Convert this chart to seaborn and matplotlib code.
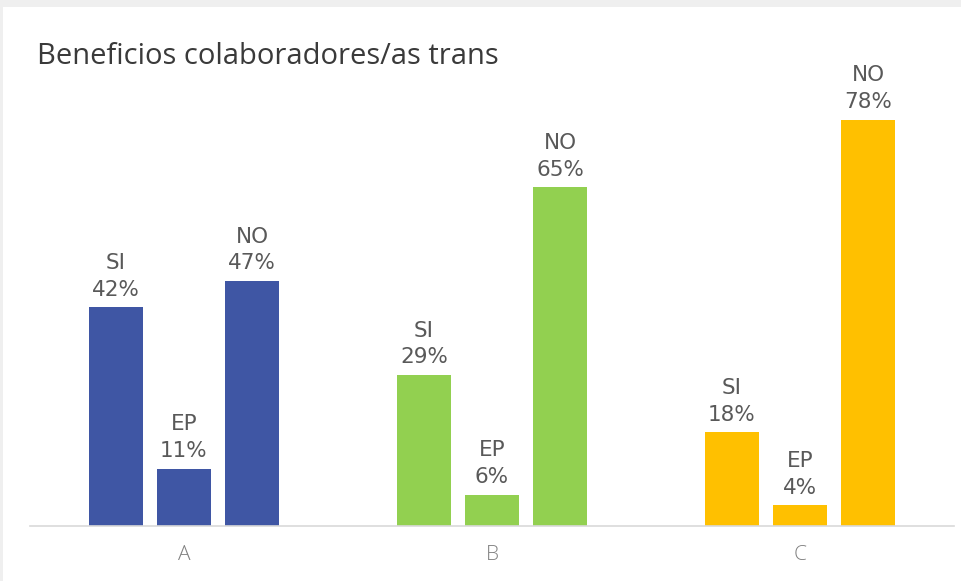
import matplotlib
matplotlib.use("Agg")
import matplotlib.pyplot as plt
from matplotlib.patches import Rectangle
import pandas as pd
import seaborn as sns

# Survey results per group
grupos = ["A", "B", "C"]
respuestas = ["SI", "EP", "NO"]
valores_a = [42, 11, 47]
valores_b = [29, 6, 65]
valores_c = [18, 4, 78]
colores_grupo = ["#3F56A4", "#92D050", "#FFC000"]

titulo = "Beneficios colaboradores/as trans"

filas = []
for g, vals in zip(grupos, [valores_a, valores_b, valores_c]):
    for r, v in zip(respuestas, vals):
        filas.append({"grupo": g, "respuesta": r, "valor": v})
df = pd.DataFrame(filas)

sns.set_theme(style="white")
plt.rcParams["font.family"] = ["Open Sans", "DejaVu Sans"]

W, H = 961, 581
fig = plt.figure(figsize=(W / 100, H / 100), dpi=100)
fig.patch.set_facecolor("white")

# light grey frame strips along top and left edges
fig.patches.append(Rectangle((0, 1 - 7 / H), 1, 7 / H, transform=fig.transFigure,
                             facecolor="#EFEFEF", edgecolor="none", zorder=0))
fig.patches.append(Rectangle((0, 0), 3 / W, 1, transform=fig.transFigure,
                             facecolor="#EFEFEF", edgecolor="none", zorder=0))

ax_left, ax_right = 30 / W, 954 / W
ax_bottom = (H - 526) / H
px_per_pct = 5.21
ylim_top = 85
ax_height = ylim_top * px_per_pct / H
ax = fig.add_axes([ax_left, ax_bottom, ax_right - ax_left, ax_height])

sns.barplot(data=df, x="grupo", y="valor", hue="respuesta", order=grupos,
            hue_order=respuestas, width=0.662, gap=0.2, dodge=True,
            palette=["#3F56A4"] * 3, legend=False, ax=ax, errorbar=None)

# recolour bars by group and add labels
for i_r, cont in enumerate(ax.containers):
    for i_g, bar in enumerate(cont.patches):
        bar.set_facecolor(colores_grupo[i_g])
        bar.set_edgecolor("none")
        v = bar.get_height()
        cx = bar.get_x() + bar.get_width() / 2
        ax.annotate(f"{respuestas[i_r]}\n{v:.0f}%", xy=(cx, v), xytext=(0, 5.5),
                    textcoords="offset points", ha="center", va="bottom",
                    fontsize=15.5, color="#595959", linespacing=1.42,
                    family="DejaVu Sans", annotation_clip=False)

ax.set_xlim(-0.5, 2.5)
ax.set_ylim(0, ylim_top)
ax.set_xlabel("")
ax.set_ylabel("")
ax.set_yticks([])
for s in ["top", "right", "left"]:
    ax.spines[s].set_visible(False)
ax.spines["bottom"].set_color("#D9D9D9")
ax.spines["bottom"].set_linewidth(1.2)
ax.tick_params(axis="x", length=0, pad=14, labelsize=15, labelcolor="#808080")
for t in ax.get_xticklabels():
    t.set_fontweight("light")
ax.set_facecolor("none")

fig.text(37 / W, 1 - 64 / H, titulo, fontsize=21, color="#3A3A3A",
         ha="left", va="baseline")

fig.savefig("out.png", dpi=100)
